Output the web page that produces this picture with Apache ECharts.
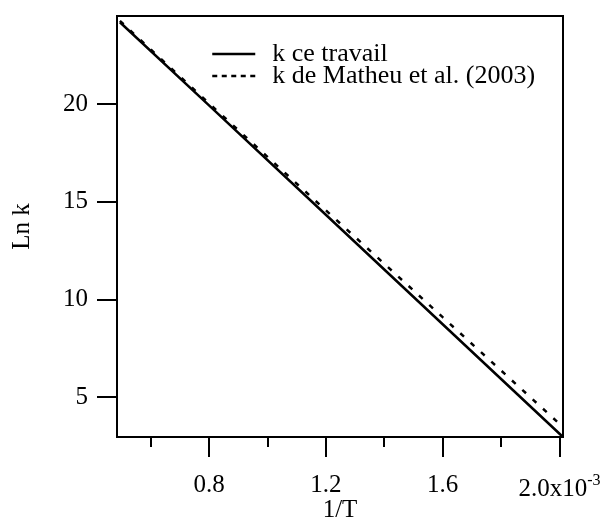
<!DOCTYPE html>
<html>
<head>
<meta charset="utf-8">
<script src="https://cdn.jsdelivr.net/npm/echarts@6/dist/echarts.min.js"></script>
<style>
html,body{margin:0;padding:0;background:#fff;}
#chart{width:605px;height:528px;}
</style>
</head>
<body>
<div id="chart"></div>
<script>
// Data (x in units of 10^-3 K^-1)
var seriesNames = ['k ce travail', 'k de Matheu et al. (2003)'];
var xSolid = [0.495, 0.8, 1.2, 1.6, 2.012];
var ySolid = [24.18, 19.93, 14.33, 8.73, 2.96];
var xDashed = [0.495, 0.8, 1.2, 1.6, 2.012];
var yDashed = [24.25, 20.03, 14.56, 9.09, 3.47];
var xMajorTicks = [0.8, 1.2, 1.6, 2.0];
var xMinorTicks = [0.6, 1.0, 1.4, 1.8];
var yTicks = [5, 10, 15, 20];

var FONT = "'Liberation Serif', 'Times New Roman', serif";
function pairs(xs, ys){ return xs.map(function(x,i){ return [x, ys[i]]; }); }

var chart = echarts.init(document.getElementById('chart'), null, {renderer:'canvas'});
chart.setOption({
  backgroundColor: '#fff',
  animation: false,
  grid: {left:117, top:16, right:42, bottom:91, show:true, borderColor:'#000', borderWidth:2,
         backgroundColor:'transparent', containLabel:false, outerBoundsMode:'none'},
  legend: {
    orient: 'vertical', left: 211, top: 41, itemWidth: 43, itemHeight: 22, itemGap: -4, padding: 0,
    textStyle: {fontFamily: FONT, fontSize: 26, color: '#000', lineHeight: 22, padding:[0,0,0,12]},
    itemStyle: {opacity: 0, borderWidth: 0},
    data: [
      {name: seriesNames[0], itemStyle:{opacity:0, borderWidth:0}, lineStyle:{type:'solid', width:2.5, color:'#000', opacity:1}},
      {name: seriesNames[1], itemStyle:{opacity:0, borderWidth:0}, lineStyle:{type:[5,4.5], width:2.5, color:'#000', opacity:1}}
    ]
  },
  xAxis: [{
    type: 'value', min: 0.485, max: 2.012, position: 'bottom',
    axisLine: {show:true, onZero:false, lineStyle:{color:'#000', width:2}},
    axisTick: {show:true, inside:false, length:20, lineStyle:{color:'#000', width:2}, customValues: xMajorTicks},
    axisLabel: {show:true, margin:36, fontFamily:FONT, fontSize:25, color:'#000', customValues: xMajorTicks,
      formatter: function(v){ return Math.abs(v-2.0)<1e-9 ? '2.0x10{sup|-3}' : v.toFixed(1); },
      rich: {sup: {fontFamily:FONT, fontSize:16, color:'#000', padding:[0,0,16,0]}}
    },
    splitLine: {show:false},
    name: '1/T', nameLocation:'middle', nameGap: 61, nameMoveOverlap: false,
    nameTextStyle: {fontFamily:FONT, fontSize:25, color:'#000'}
  },{
    type: 'value', min: 0.485, max: 2.012, position: 'bottom',
    axisLine: {show:false},
    axisTick: {show:true, inside:false, length:10, lineStyle:{color:'#000', width:2}, customValues: xMinorTicks},
    axisLabel: {show:false},
    splitLine: {show:false}
  }],
  yAxis: {
    type: 'value', min: 2.96, max: 24.5,
    axisLine: {show:true, onZero:false, lineStyle:{color:'#000', width:2}},
    axisTick: {show:true, inside:false, length:20, lineStyle:{color:'#000', width:2}, customValues: yTicks},
    axisLabel: {show:true, margin:29, fontFamily:FONT, fontSize:25, color:'#000', customValues: yTicks},
    splitLine: {show:false},
    name: 'Ln k', nameLocation:'middle', nameGap: 82, nameMoveOverlap: false,
    nameTextStyle: {fontFamily:FONT, fontSize:25, color:'#000'}
  },
  series: [
    {name: seriesNames[0], type:'line', xAxisIndex:0, data: pairs(xSolid, ySolid), symbol:'none', showSymbol:false,
     lineStyle:{color:'#000', width:2.5, type:'solid'}, itemStyle:{color:'#000'}, clip:true},
    {name: seriesNames[1], type:'line', xAxisIndex:0, data: pairs(xDashed, yDashed), symbol:'none', showSymbol:false,
     lineStyle:{color:'#000', width:2.5, type:[5,9]}, itemStyle:{color:'#000'}, clip:true}
  ]
});
</script>
</body>
</html>
